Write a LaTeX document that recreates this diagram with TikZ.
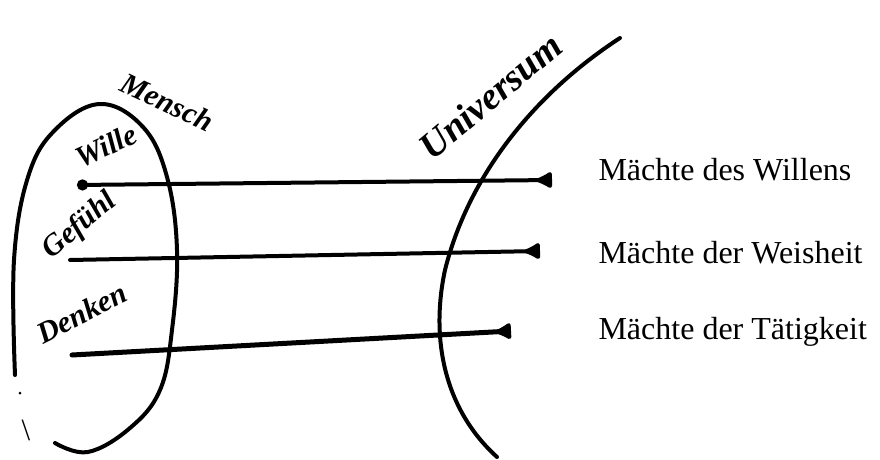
\documentclass[tikz,border=0pt]{standalone}
\usepackage{fontspec}
\setmainfont{Liberation Serif}
\usetikzlibrary{arrows.meta}

\begin{document}
\begin{tikzpicture}[x=1pt,y=-1pt,
    ink/.style={line width=4pt,line cap=round,line join=round},
    ray/.style={ink,-{Latex[reversed,round,length=20pt,width=20pt]}},
    hand/.style={font=\fontsize{30}{30}\selectfont\itshape\bfseries},
    caption/.style={anchor=base west,font=\fontsize{32}{32}\selectfont}]
  \useasboundingbox (0,0) rectangle (880,460);
  % the human being
  \draw[ink] plot[smooth,tension=0.65] coordinates {(55,443) (88,452) (130,428) (160,390) (172,330)
    (177,250) (167,177) (143,127) (100,104) (55,130) (28,177) (14,260) (15,375)};
  \fill (20,393) circle (1.5);
  \node[font=\fontsize{31}{31}\selectfont] (mark) at (26,430) {\textbackslash};
  % the universe
  \draw[ink] (620,38) .. controls (540,90) and (470,170) .. (445,270)
    .. controls (430,340) and (445,410) .. (497,457);
  % handwritten words
  \node[hand,rotate=-25] (mensch) at (167,102) {Mensch};
  \node[hand,rotate=25] (wille) at (106,146) {Wille};
  \node[hand,rotate=40] (gefuehl) at (80,226) {Gefühl};
  \node[hand,rotate=27] (denken) at (82,313) {Denken};
  \node[hand,rotate=40,font=\fontsize{38}{38}\selectfont\itshape\bfseries] (univ) at (490,96) {Universum};
  % the three rays
  \coordinate (w0) at (77,185);  \coordinate (w1) at (552,180);
  \coordinate (g0) at (70,260);  \coordinate (g1) at (540,251);
  \coordinate (d0) at (72,355);  \coordinate (d1) at (511,331);
  \draw[ray,{Circle[length=11pt]}-{Latex[reversed,round,length=20pt,width=20pt]}] (w0) -- (w1);
  \draw[ray] (g0) -- (g1);
  \draw[ray,line width=5pt] (d0) -- (d1);
  \node[caption] (willens) at (595,180) {Mächte des Willens};
  \node[caption] (weisheit) at (595,263) {Mächte der Weisheit};
  \node[caption] (taetig) at (595,339) {Mächte der Tätigkeit};
\end{tikzpicture}
\end{document}
